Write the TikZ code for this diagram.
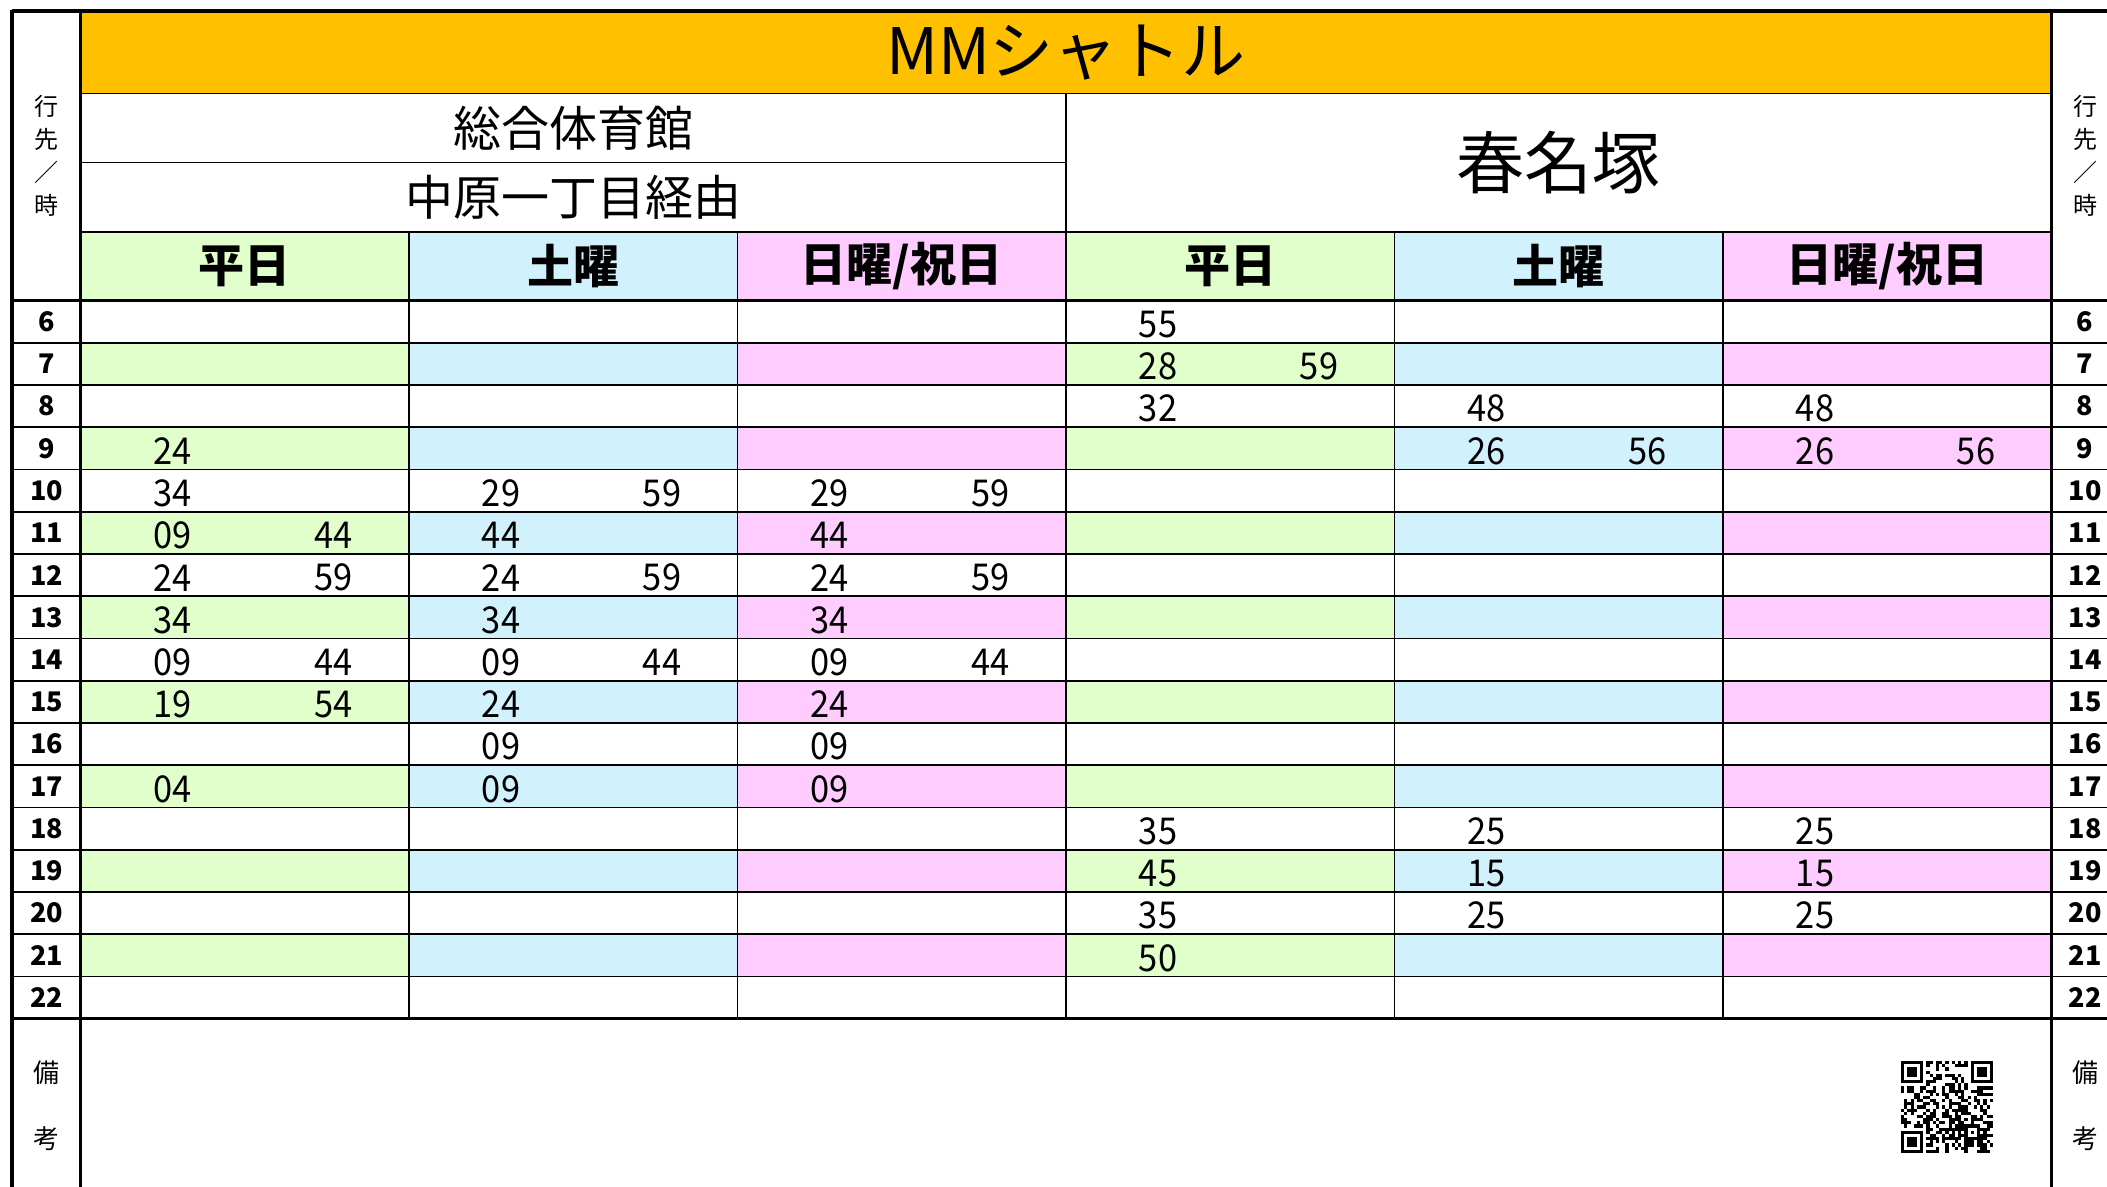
\documentclass[tikz,border=0pt]{standalone}
\usepackage{fontspec}
\setmainfont{Noto Sans CJK JP}
\newfontfamily\minutefont{Noto Sans CJK JP}[FakeStretch=0.93]
\usepackage{xcolor}
\usetikzlibrary{positioning}

\definecolor{titleorange}{HTML}{FFC000}
\definecolor{wdaygreen}{HTML}{E1FFCB}
\definecolor{satblue}{HTML}{D1F2FC}
\definecolor{sunpink}{HTML}{FFCCFF}

\begin{document}
\begin{tikzpicture}[x=0.5pt, y=-0.5pt,
  thinline/.style={line width=0.85pt},
  thickline/.style={line width=1.7pt},
  titletext/.style={font=\fontsize{32}{36}\selectfont},
  desttext/.style={font=\fontsize{24}{28}\selectfont},
  bigdest/.style={font=\fontsize{34}{38}\selectfont},
  headtext/.style={font=\bfseries\fontsize{23}{26}\selectfont},
  minute/.style={font=\minutefont\fontsize{18.5}{20}\selectfont, inner sep=0pt},
  hour/.style={font=\bfseries\fontsize{13.5}{15}\selectfont, inner sep=0pt},
  sidelabel/.style={font=\fontsize{12}{16.5}\selectfont, align=center, inner sep=0pt},
  notelabel/.style={font=\fontsize{13}{33}\selectfont, align=center, inner sep=0pt}]
  \useasboundingbox (0,0) rectangle (2107,1187);

  \fill[titleorange] (80.5,11) rectangle (2051.5,93.5);
  \foreach \c/\col in {0/wdaygreen,1/satblue,2/sunpink,3/wdaygreen,4/satblue,5/sunpink}{
    \fill[\col] (80.5+328.5*\c,232) rectangle +(328.5,68.5);
    \foreach \r in {1,3,...,15}
      \fill[\col] (80.5+328.5*\c,300.5+42.25*\r) rectangle +(328.5,42.25);
  }

  \draw[thinline] (80.5,93.5) -- (2051.5,93.5);
  \draw[thinline] (80.5,162.5) -- (1066,162.5);
  \draw[thinline] (80.5,232) -- (2051.5,232);
  \draw[thinline] (1066,93.5) -- (1066,1018.75);
  \foreach \c in {1,2,4,5}
    \draw[thinline] (80.5+328.5*\c,232) -- (80.5+328.5*\c,1018.75);
  \foreach \r in {1,...,16}
    \draw[thinline] (12,300.5+42.25*\r) -- (2107,300.5+42.25*\r);

  \draw[thickline] (12,11) -- (2107,11);
  \draw[thickline] (12,300.5) -- (2107,300.5);
  \draw[thickline] (12,1018.75) -- (2107,1018.75);
  \foreach \x in {12,80.5,2051.5}
    \draw[thickline] (\x,10) -- (\x,1187);

  \node[titletext] (title) at (1066,52.5) {MMシャトル};
  \node[desttext] (dest) at (573.25,128) {総合体育館};
  \node[desttext] (via) at (573.25,197.5) {中原一丁目経由};
  \node[bigdest] (harunazuka) at (1558.75,162.5) {春名塚};
  \foreach \c/\lab in {0/平日,1/土曜,2/{日曜/祝日},3/平日,4/土曜,5/{日曜/祝日}}
    \node[headtext] (head\c) at (80.5+328.5*\c+164.25,266.5) {\lab};

  \node[sidelabel] (leftdir) at (46.5,156) {行\\先\\／\\時};
  \node[sidelabel] (rightdir) at (2085,156) {行\\先\\／\\時};
  \node[notelabel] (leftnote) at (46.5,1106) {備\\考};
  \node[notelabel] (rightnote) at (2085,1106) {備\\考};
  \foreach \h [count=\r from 0] in {6,...,22}{
    \node[hour] (hl\h) at (46.5,321.6+42.25*\r) {\h};
    \node[hour] (hr\h) at (2085,321.6+42.25*\r) {\h};
  }

  \foreach \c/\r/\s/\v in {0/3/0/24, 0/4/0/34, 0/5/0/09, 0/5/1/44, 0/6/0/24, 0/6/1/59,
      0/7/0/34, 0/8/0/09, 0/8/1/44, 0/9/0/19, 0/9/1/54, 0/11/0/04,
      3/0/0/55, 3/1/0/28, 3/1/1/59, 3/2/0/32, 3/12/0/35, 3/13/0/45, 3/14/0/35, 3/15/0/50}
    \node[minute] (m\c-\r-\s) at (172.5+328.5*\c+161*\s,324.1+42.25*\r) {\v};
  \foreach \c in {1,2}
    \foreach \r/\s/\v in {4/0/29, 4/1/59, 5/0/44, 6/0/24, 6/1/59, 7/0/34, 8/0/09, 8/1/44,
        9/0/24, 10/0/09, 11/0/09}
      \node[minute] (m\c-\r-\s) at (172.5+328.5*\c+161*\s,324.1+42.25*\r) {\v};
  \foreach \c in {4,5}
    \foreach \r/\s/\v in {2/0/48, 3/0/26, 3/1/56, 12/0/25, 13/0/15, 14/0/25}
      \node[minute] (m\c-\r-\s) at (172.5+328.5*\c+161*\s,324.1+42.25*\r) {\v};

  \pgfmathsetseed{42}
  \foreach \i in {0,...,28}
    \foreach \j in {0,...,28}{
      \pgfmathrandominteger{\q}{0}{1}
      \ifnum\q=1 \fill (1901+3.17*\i,1061+3.17*\j) rectangle +(3.2,3.2); \fi
    }
  \foreach \a/\b in {0/0,22/0,0/22}{
    \fill[white] (1901+3.17*\a-3.17,1061+3.17*\b-3.17) rectangle +(28.53,28.53);
    \fill (1901+3.17*\a,1061+3.17*\b) rectangle +(22.19,22.19);
    \fill[white] (1904.17+3.17*\a,1064.17+3.17*\b) rectangle +(15.85,15.85);
    \fill (1907.34+3.17*\a,1067.34+3.17*\b) rectangle +(9.51,9.51);
  }
  \fill (1901+3.17*20,1061+3.17*20) rectangle +(15.85,15.85);
  \fill[white] (1901+3.17*21,1061+3.17*21) rectangle +(9.51,9.51);
  \fill (1901+3.17*22,1061+3.17*22) rectangle +(3.17,3.17);
\end{tikzpicture}
\end{document}
